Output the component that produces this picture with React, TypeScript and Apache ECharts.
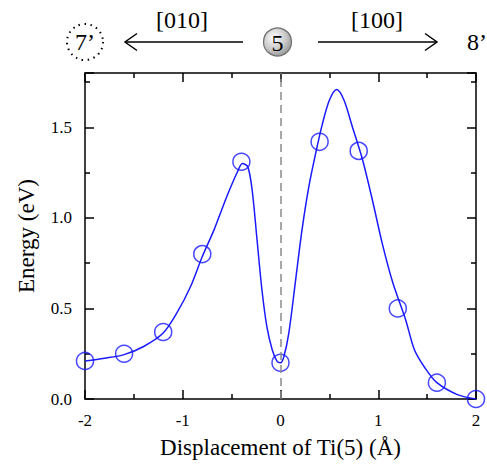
import React, { useEffect, useRef } from "react";
import * as echarts from "echarts";

// DFT points (open circles)
const pointX = [-2, -1.6, -1.2, -0.8, -0.4, 0, 0.4, 0.8, 1.2, 1.6, 2];
const pointY = [0.21, 0.25, 0.37, 0.8, 1.31, 0.2, 1.42, 1.37, 0.5, 0.09, 0.0];

// fitted curve
const curveX = [-2, -1.8, -1.6, -1.4, -1.2, -1.06, -0.92, -0.8, -0.68, -0.55, -0.44, -0.39, -0.335, -0.29, -0.24, -0.19, -0.14, -0.085, -0.035, 0, 0.035, 0.085, 0.155, 0.22, 0.29, 0.36, 0.43, 0.5, 0.575, 0.65, 0.735, 0.84, 0.94, 1.04, 1.15, 1.28, 1.37, 1.48, 1.6, 1.81, 2];
const curveY = [0.21, 0.225, 0.245, 0.29, 0.364, 0.475, 0.621, 0.787, 0.934, 1.117, 1.255, 1.3, 1.283, 1.154, 0.879, 0.603, 0.401, 0.272, 0.208, 0.2, 0.235, 0.364, 0.658, 0.934, 1.173, 1.357, 1.522, 1.65, 1.709, 1.65, 1.503, 1.32, 1.099, 0.861, 0.64, 0.438, 0.272, 0.17, 0.09, 0.024, 0.0];

const xTicks = [-2, -1, 0, 1, 2];
const yTicks = ["0.0", "0.5", "1.0", "1.5"];

const FONT = "'Liberation Serif', 'Times New Roman', serif";
const BLUE = "#1a1aff";

export default function App() {
  const ref = useRef<HTMLDivElement>(null);
  useEffect(() => {
    if (!ref.current) return;
    const chart = echarts.init(ref.current, null, { renderer: "svg" });
    const axisLine = { show: true, onZero: false, lineStyle: { color: "#000", width: 1.5 } };
    const baseX = {
      type: "value",
      min: xTicks[0],
      max: xTicks[xTicks.length - 1],
      interval: 1,
      axisLine,
      splitLine: { show: false },
      axisTick: { inside: true, length: 9, lineStyle: { color: "#000", width: 1.5 } },
      minorTick: { show: true, splitNumber: 2, length: 5, lineStyle: { color: "#000", width: 1.5 } },
    };
    const baseY = {
      type: "value",
      min: 0,
      max: 1.8,
      interval: 0.5,
      axisLine,
      splitLine: { show: false },
      axisTick: { inside: true, length: 9, lineStyle: { color: "#000", width: 1.5 } },
      minorTick: { show: true, splitNumber: 2, length: 5, lineStyle: { color: "#000", width: 1.5 } },
    };
    const ball = new echarts.graphic.RadialGradient(0.38, 0.35, 0.75, [
      { offset: 0, color: "#ffffff" },
      { offset: 0.6, color: "#c4c4c4" },
      { offset: 1, color: "#8c8c8c" },
    ]);
    const txt = (x: number, y: number, s: string, size = 24) => ({
      type: "text",
      x,
      y,
      style: { text: s, fontFamily: FONT, fontSize: size, fill: "#000", align: "center", verticalAlign: "middle" },
    });
    chart.setOption({
      animation: false,
      textStyle: { fontFamily: FONT },
      grid: { left: 85, right: 11, top: 73, bottom: 65 },
      xAxis: [
        {
          ...baseX,
          position: "bottom",
          name: "Displacement of Ti(5) (Å)",
          nameLocation: "middle",
          nameGap: 37,
          nameTextStyle: { fontFamily: FONT, fontSize: 23, color: "#000" },
          axisLabel: {
            fontFamily: FONT,
            fontSize: 17,
            color: "#000",
            margin: 13,
            formatter: (v: number) => (xTicks.includes(v) ? String(v) : ""),
          },
        },
        { ...baseX, position: "top", axisLabel: { show: false } },
      ],
      yAxis: [
        {
          ...baseY,
          position: "left",
          name: "Energy (eV)",
          nameLocation: "middle",
          nameGap: 47,
          nameTextStyle: { fontFamily: FONT, fontSize: 23, color: "#000" },
          axisLabel: {
            fontFamily: FONT,
            fontSize: 17,
            color: "#000",
            margin: 13,
            formatter: (v: number) => {
              const s = v.toFixed(1);
              return yTicks.includes(s) ? s : "";
            },
          },
        },
        { ...baseY, position: "right", axisLabel: { show: false } },
      ],
      series: [
        {
          type: "line",
          data: curveX.map((x, i) => [x, curveY[i]]),
          smooth: 0.3,
          showSymbol: false,
          lineStyle: { color: BLUE, width: 1.5 },
          z: 3,
          markLine: {
            silent: true,
            symbol: ["none", "none"],
            label: { show: false },
            lineStyle: { color: "#8a8a8a", type: [8, 5], width: 1.5 },
            data: [{ xAxis: 0 }],
          },
        },
        {
          type: "scatter",
          data: pointX.map((x, i) => [x, pointY[i]]),
          symbol: "circle",
          symbolSize: 17,
          clip: false,
          itemStyle: { color: "rgba(0,0,0,0)", borderColor: BLUE, borderWidth: 1.5 },
          z: 4,
        },
      ],
      graphic: [
        {
          type: "circle",
          shape: { cx: 85, cy: 42, r: 18 },
          style: { fill: "none", stroke: "#000", lineWidth: 2, lineDash: [1.5, 4.5] },
        },
        txt(85, 42, "7’"),
        {
          type: "line",
          shape: { x1: 125, y1: 42, x2: 243, y2: 42 },
          style: { stroke: "#000", lineWidth: 1.5 },
        },
        {
          type: "polyline",
          shape: { points: [[137, 33.5], [125, 42], [137, 50.5]] },
          style: { stroke: "#000", lineWidth: 1.5, fill: "none" },
        },
        txt(182, 20, "[010]"),
        {
          type: "circle",
          shape: { cx: 277.5, cy: 42, r: 14 },
          style: { fill: ball, stroke: "#6e6e6e", lineWidth: 1.2 },
        },
        txt(277.5, 43, "5"),
        {
          type: "line",
          shape: { x1: 318, y1: 42, x2: 437, y2: 42 },
          style: { stroke: "#000", lineWidth: 1.5 },
        },
        {
          type: "polyline",
          shape: { points: [[425, 33.5], [437, 42], [425, 50.5]] },
          style: { stroke: "#000", lineWidth: 1.5, fill: "none" },
        },
        txt(377, 20, "[100]"),
        txt(477, 42, "8’"),
      ],
    });
    return () => chart.dispose();
  }, []);
  return <div ref={ref} style={{ width: 487, height: 464, position: "absolute", left: 0, top: 0 }} />;
}
